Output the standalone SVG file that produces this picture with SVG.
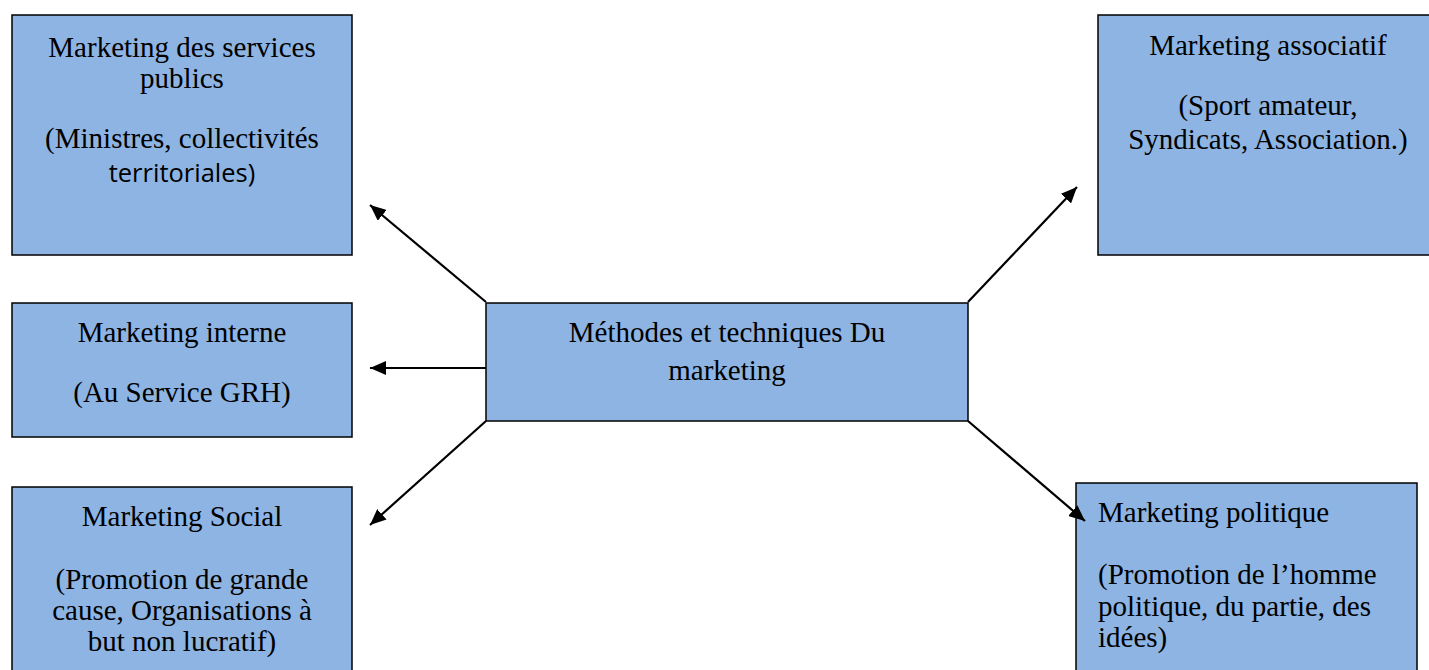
<svg xmlns="http://www.w3.org/2000/svg" width="1429" height="670" viewBox="0 0 1429 670">
<style>
.box{fill:#8EB4E3;stroke:#000;stroke-width:1.5}
.t{font-family:"Liberation Serif","Times New Roman",serif;font-size:29px;fill:#000}
.c{text-anchor:middle}
.s{font-family:"Open Sans","Liberation Sans",sans-serif;font-size:25.5px}
.con{stroke:#000;stroke-width:2.2;fill:none;marker-end:url(#ah)}
</style>
<defs>
<marker id="ah" viewBox="0 0 16 14" refX="16" refY="7" markerWidth="16" markerHeight="14" markerUnits="userSpaceOnUse" orient="auto">
<path d="M0,0 L16,7 L0,14 z" fill="#000"/>
</marker>
</defs>
<rect width="1429" height="670" fill="#fff"/>
<g id="n1">
<rect class="box" x="12" y="15" width="340" height="240"/>
<text class="t c" x="182" y="57">Marketing des services</text>
<text class="t c" x="182" y="88">publics</text>
<text class="t c" x="182" y="148">(Ministres, collectivités</text>
<text class="t c s" x="182" y="182">territoriales)</text>
</g>
<g id="n2">
<rect class="box" x="12" y="303" width="340" height="134"/>
<text class="t c" x="182" y="342">Marketing interne</text>
<text class="t c" x="182" y="402">(Au Service GRH)</text>
</g>
<g id="n3">
<rect class="box" x="12" y="487" width="340" height="190"/>
<text class="t c" x="182" y="526">Marketing Social</text>
<text class="t c" x="182" y="589">(Promotion de grande</text>
<text class="t c" x="182" y="620">cause, Organisations à</text>
<text class="t c" x="182" y="651">but non lucratif)</text>
</g>
<g id="center">
<rect class="box" x="486" y="303" width="482" height="118"/>
<text class="t c" x="727" y="342">Méthodes et techniques Du</text>
<text class="t c" x="727" y="380">marketing</text>
</g>
<g id="n4">
<rect class="box" x="1098" y="15" width="340" height="240"/>
<text class="t c" x="1268" y="55">Marketing associatif</text>
<text class="t c" x="1268" y="115">(Sport amateur,</text>
<text class="t c" x="1268" y="149">Syndicats, Association.)</text>
</g>
<g id="n5">
<rect class="box" x="1076" y="483" width="341" height="194"/>
<text class="t" x="1098" y="522">Marketing politique</text>
<text class="t" x="1098" y="584">(Promotion de l’homme</text>
<text class="t" x="1098" y="616">politique, du partie, des</text>
<text class="t" x="1098" y="647">idées)</text>
</g>
<g id="connectors">
<line class="con" x1="486" y1="302" x2="370" y2="205"/>
<line class="con" x1="486" y1="368" x2="370" y2="368"/>
<line class="con" x1="486" y1="421" x2="370" y2="525"/>
<line class="con" x1="968" y1="302" x2="1077" y2="187"/>
<line class="con" x1="968" y1="421" x2="1085" y2="521"/>
</g>
</svg>
